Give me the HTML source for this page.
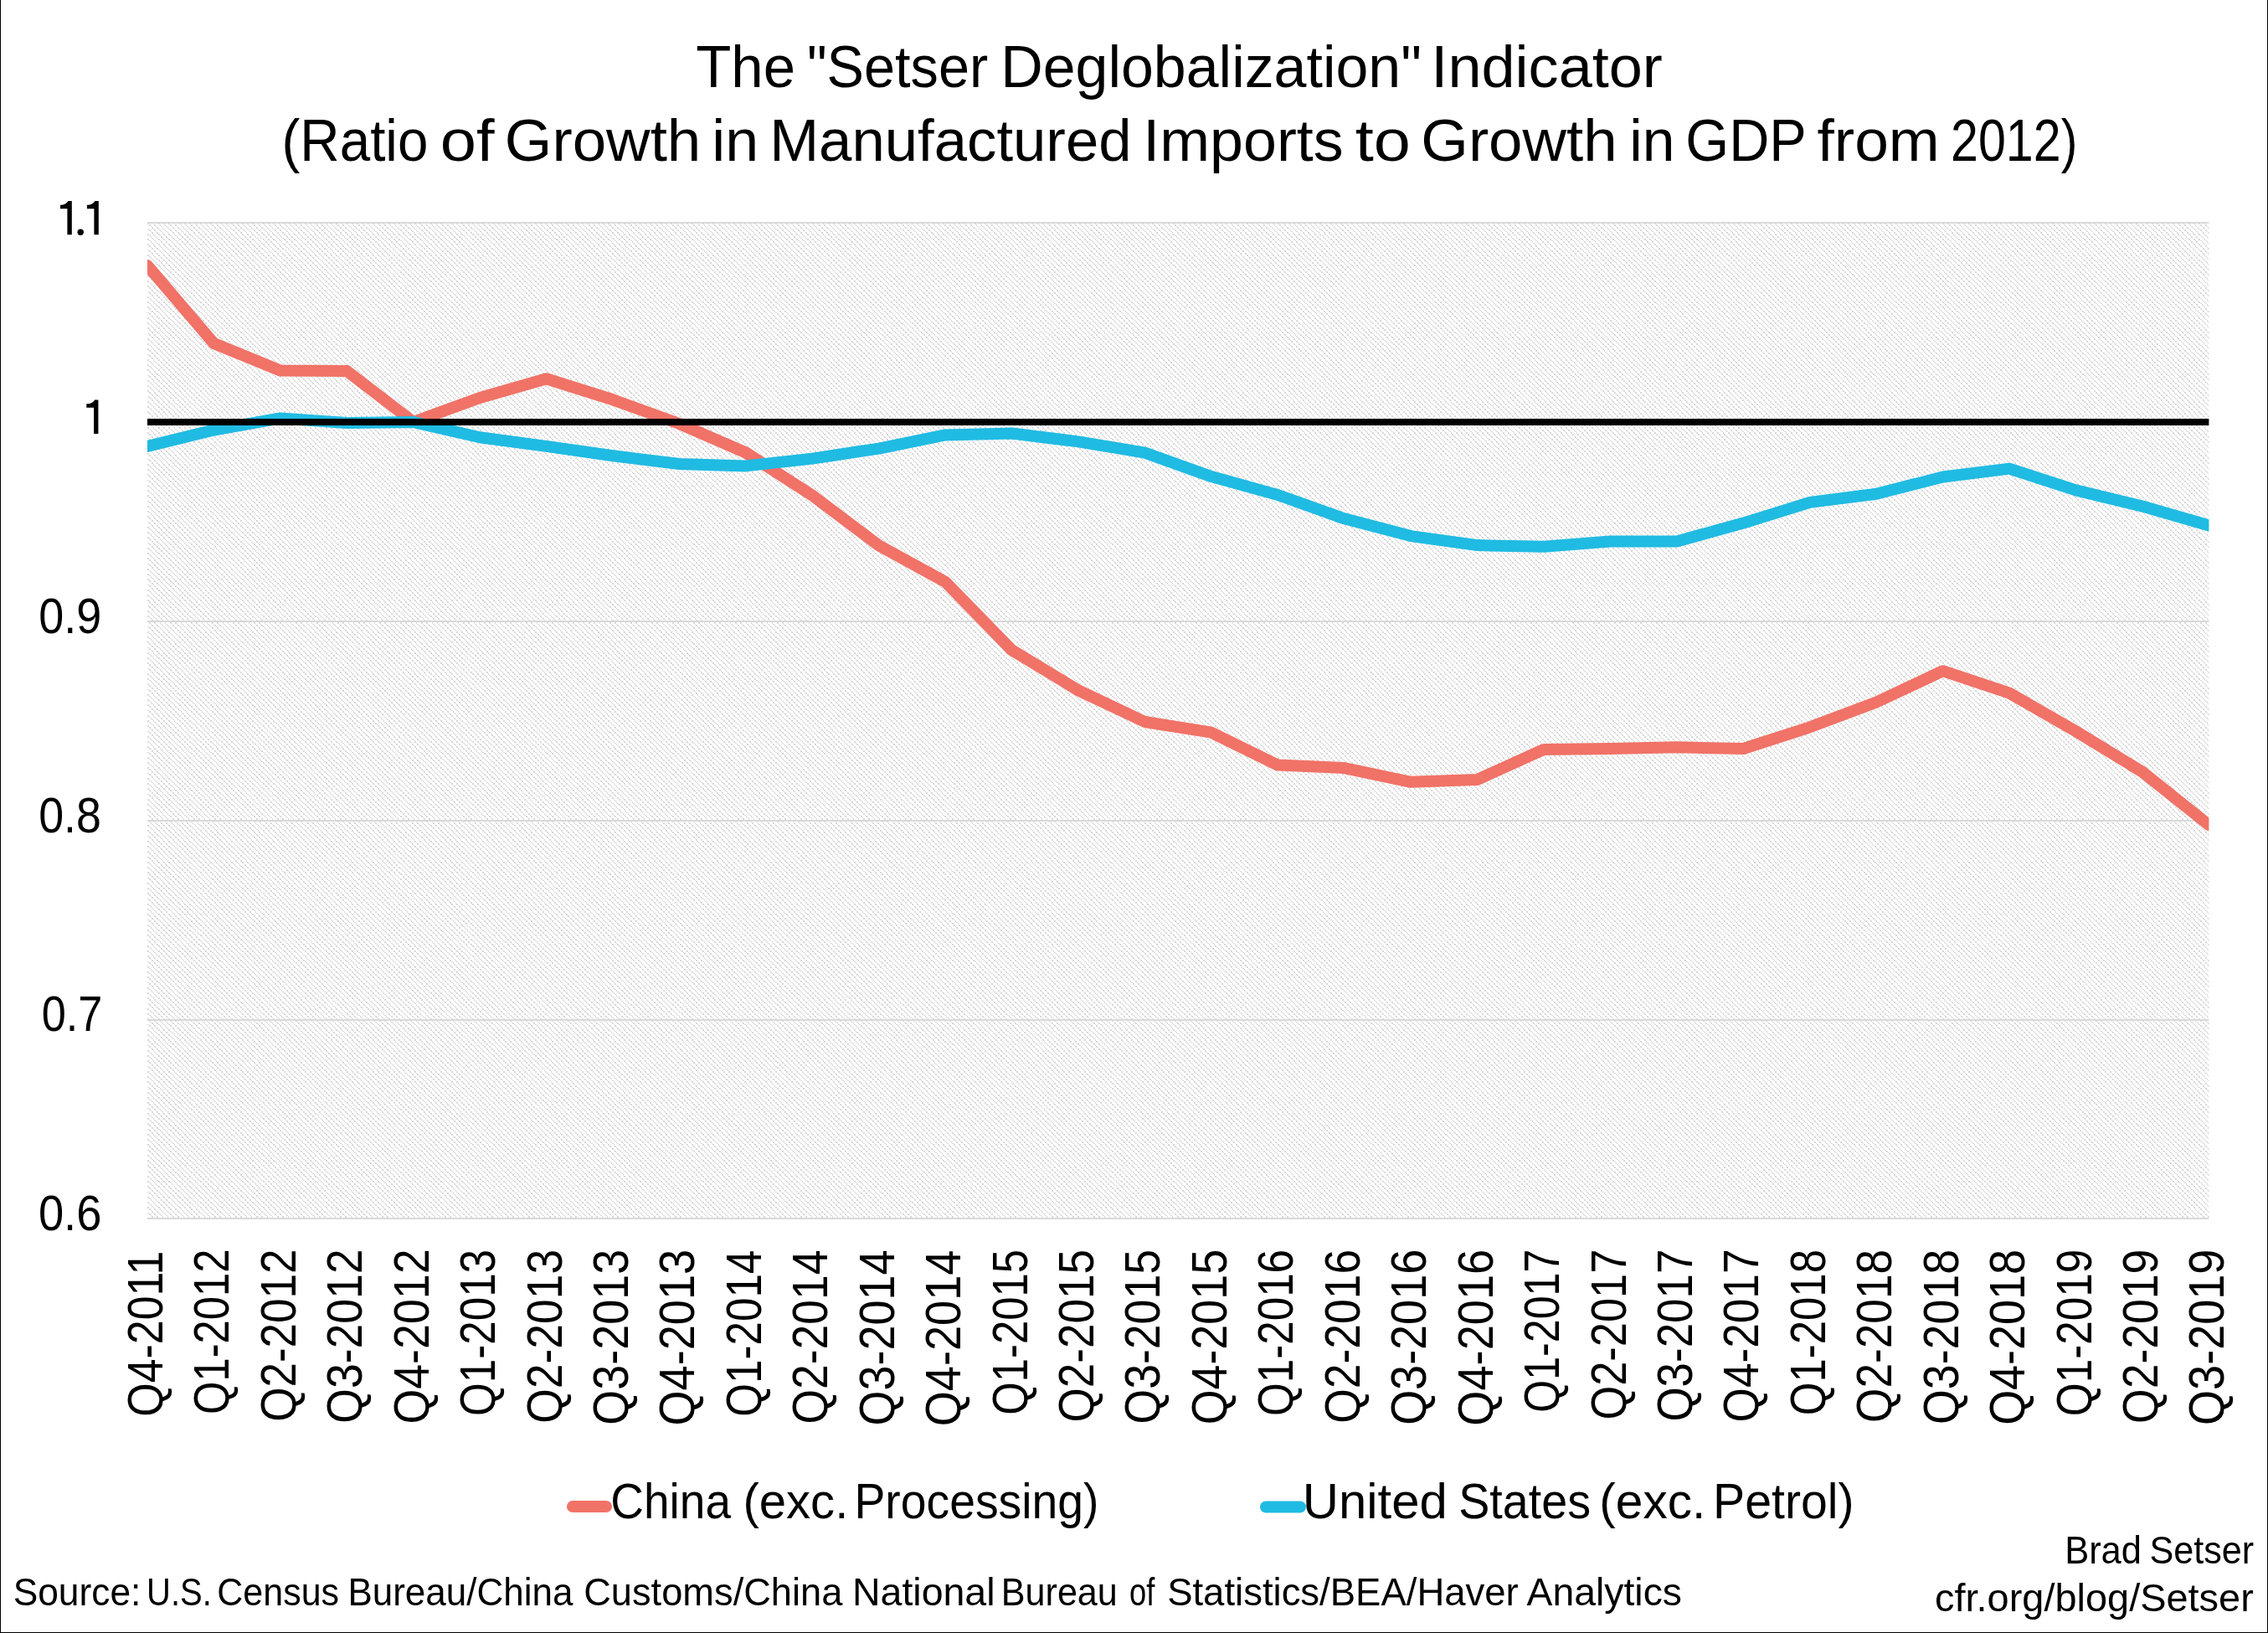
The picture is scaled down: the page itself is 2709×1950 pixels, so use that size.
<!DOCTYPE html>
<html><head><meta charset="utf-8"><title>The Setser Deglobalization Indicator</title>
<style>html,body{margin:0;padding:0;background:#fff;width:2709px;height:1950px;overflow:hidden}svg{display:block;will-change:transform}text{font-family:"Liberation Sans",sans-serif}</style>
</head><body>
<svg width="2709" height="1950" viewBox="0 0 2709 1950">
<rect width="2709" height="1950" fill="#fff"/>
<defs>
<pattern id="hatch" patternUnits="userSpaceOnUse" x="176" y="266" width="25" height="25">
<path fill="#d9d9d9" shape-rendering="crispEdges" d="M0 0h2v1h-2zM7 0h1v1h-1zM13 0h2v1h-2zM19 0h2v1h-2zM0 1h2v1h-2zM7 1h1v1h-1zM13 1h2v1h-2zM19 1h2v1h-2zM2 2h2v1h-2zM8 2h2v1h-2zM15 2h1v1h-1zM21 2h1v1h-1zM2 3h2v1h-2zM8 3h2v1h-2zM15 3h1v1h-1zM21 3h1v1h-1zM4 4h1v1h-1zM10 4h1v1h-1zM16 4h2v1h-2zM22 4h2v1h-2zM5 5h2v1h-2zM11 5h2v1h-2zM18 5h1v1h-1zM24 5h1v1h-1zM5 6h2v1h-2zM11 6h2v1h-2zM18 6h1v1h-1zM24 6h1v1h-1zM0 7h2v1h-2zM7 7h1v1h-1zM13 7h2v1h-2zM19 7h2v1h-2zM2 8h2v1h-2zM8 8h2v1h-2zM15 8h1v1h-1zM21 8h1v1h-1zM2 9h2v1h-2zM8 9h2v1h-2zM15 9h1v1h-1zM21 9h1v1h-1zM4 10h1v1h-1zM10 10h1v1h-1zM16 10h2v1h-2zM22 10h2v1h-2zM5 11h2v1h-2zM11 11h2v1h-2zM18 11h1v1h-1zM24 11h1v1h-1zM5 12h2v1h-2zM11 12h2v1h-2zM18 12h1v1h-1zM24 12h1v1h-1zM0 13h2v1h-2zM7 13h1v1h-1zM13 13h2v1h-2zM19 13h2v1h-2zM0 14h2v1h-2zM7 14h1v1h-1zM13 14h2v1h-2zM19 14h2v1h-2zM2 15h2v1h-2zM8 15h2v1h-2zM15 15h1v1h-1zM21 15h1v1h-1zM4 16h1v1h-1zM10 16h1v1h-1zM16 16h2v1h-2zM22 16h2v1h-2zM4 17h1v1h-1zM10 17h1v1h-1zM16 17h2v1h-2zM22 17h2v1h-2zM5 18h2v1h-2zM11 18h2v1h-2zM18 18h1v1h-1zM24 18h1v1h-1zM0 19h2v1h-2zM7 19h1v1h-1zM13 19h2v1h-2zM19 19h2v1h-2zM0 20h2v1h-2zM7 20h1v1h-1zM13 20h2v1h-2zM19 20h2v1h-2zM2 21h2v1h-2zM8 21h2v1h-2zM15 21h1v1h-1zM21 21h1v1h-1zM4 22h1v1h-1zM10 22h1v1h-1zM16 22h2v1h-2zM22 22h2v1h-2zM4 23h1v1h-1zM10 23h1v1h-1zM16 23h2v1h-2zM22 23h2v1h-2zM5 24h2v1h-2zM11 24h2v1h-2zM18 24h1v1h-1zM24 24h1v1h-1z"/>
</pattern>
<clipPath id="plot"><rect x="176" y="256" width="2462.4" height="1209"/></clipPath>
</defs><rect x="176" y="266" width="2462.4" height="1189" fill="url(#hatch)"/><rect x="176" y="265" width="2462.4" height="2" fill="#d9d9d9"/><rect x="176" y="741" width="2462.4" height="2" fill="#d9d9d9"/><rect x="176" y="979" width="2462.4" height="2" fill="#d9d9d9"/><rect x="176" y="1217" width="2462.4" height="2" fill="#d9d9d9"/><rect x="176" y="1454" width="2462.4" height="2" fill="#d9d9d9"/><polyline points="176.00,317.00 255.43,410.00 334.86,442.50 414.30,443.00 493.73,504.00 573.16,475.00 652.59,452.30 732.03,477.30 811.46,506.00 890.89,540.50 970.32,591.70 1049.75,651.30 1129.19,694.90 1208.62,776.30 1288.05,824.40 1367.48,862.00 1446.92,874.70 1526.35,913.60 1605.78,917.10 1685.21,933.80 1764.65,930.90 1844.08,894.90 1923.51,894.00 2002.94,892.30 2082.37,894.00 2161.81,868.30 2241.24,838.50 2320.67,801.20 2400.10,827.60 2479.54,873.20 2558.97,921.80 2638.40,985.10" fill="none" stroke="#F17267" stroke-width="14" stroke-linejoin="round" stroke-linecap="round" clip-path="url(#plot)"/><polyline points="176.00,533.00 255.43,513.50 334.86,499.40 414.30,505.00 493.73,504.00 573.16,522.30 652.59,532.90 732.03,544.30 811.46,554.00 890.89,556.40 970.32,547.60 1049.75,535.60 1129.19,519.40 1208.62,517.50 1288.05,527.40 1367.48,540.60 1446.92,569.10 1526.35,591.00 1605.78,619.30 1685.21,640.10 1764.65,651.10 1844.08,652.80 1923.51,646.60 2002.94,646.40 2082.37,624.60 2161.81,599.90 2241.24,589.80 2320.67,569.50 2400.10,559.60 2479.54,585.40 2558.97,604.60 2638.40,627.40" fill="none" stroke="#20BBE2" stroke-width="14" stroke-linejoin="round" stroke-linecap="round" clip-path="url(#plot)"/><rect x="176" y="500" width="2462.4" height="8" fill="#000"/>
<g font-family="Liberation Sans, sans-serif" fill="#000">
<text x="831.15" y="104.00" font-size="71" textLength="118.92" lengthAdjust="spacingAndGlyphs">The</text>
<text x="963.97" y="104.00" font-size="71" textLength="216.14" lengthAdjust="spacingAndGlyphs">&quot;Setser</text>
<text x="1195.27" y="104.00" font-size="71" textLength="502.70" lengthAdjust="spacingAndGlyphs">Deglobalization&quot;</text>
<text x="1709.35" y="104.00" font-size="71" textLength="276.55" lengthAdjust="spacingAndGlyphs">Indicator</text>
<text x="336.54" y="192.00" font-size="71" textLength="174.82" lengthAdjust="spacingAndGlyphs">(Ratio</text>
<text x="525.74" y="192.00" font-size="71" textLength="64.75" lengthAdjust="spacingAndGlyphs">of</text>
<text x="602.84" y="192.00" font-size="71" textLength="234.48" lengthAdjust="spacingAndGlyphs">Growth</text>
<text x="850.20" y="192.00" font-size="71" textLength="55.86" lengthAdjust="spacingAndGlyphs">in</text>
<text x="919.20" y="192.00" font-size="71" textLength="432.36" lengthAdjust="spacingAndGlyphs">Manufactured</text>
<text x="1365.38" y="192.00" font-size="71" textLength="239.21" lengthAdjust="spacingAndGlyphs">Imports</text>
<text x="1618.80" y="192.00" font-size="71" textLength="66.13" lengthAdjust="spacingAndGlyphs">to</text>
<text x="1697.34" y="192.00" font-size="71" textLength="234.38" lengthAdjust="spacingAndGlyphs">Growth</text>
<text x="1946.34" y="192.00" font-size="71" textLength="54.18" lengthAdjust="spacingAndGlyphs">in</text>
<text x="2013.35" y="192.00" font-size="71" textLength="144.47" lengthAdjust="spacingAndGlyphs">GDP</text>
<text x="2170.46" y="192.00" font-size="71" textLength="146.36" lengthAdjust="spacingAndGlyphs">from</text>
<text x="2330.02" y="192.00" font-size="71" textLength="151.35" lengthAdjust="spacingAndGlyphs">2012)</text>
<path d="M117.40,477.40 L117.40,517.90 L112.10,517.90 L112.10,486.80 L103.30,486.80 L103.30,482.20 C107.60,482.20 111.60,480.60 113.10,477.40 Z"/>
<path d="M85.80,239.90 L85.80,280.30 L80.40,280.30 L80.40,249.30 L72.00,249.30 L72.00,244.70 C75.90,244.70 79.90,243.10 81.40,239.90 Z"/>
<circle cx="96.2" cy="277.3" r="3.7"/>
<path d="M117.80,239.90 L117.80,280.30 L112.40,280.30 L112.40,249.30 L103.90,249.30 L103.90,244.70 C107.90,244.70 111.90,243.10 113.40,239.90 Z"/>
<text x="46.19" y="756.00" font-size="59" textLength="74.96" lengthAdjust="spacingAndGlyphs">0.9</text>
<text x="46.20" y="993.80" font-size="59" textLength="74.74" lengthAdjust="spacingAndGlyphs">0.8</text>
<text x="49.66" y="1231.30" font-size="59" textLength="72.67" lengthAdjust="spacingAndGlyphs">0.7</text>
<text x="45.88" y="1469.00" font-size="59" textLength="75.51" lengthAdjust="spacingAndGlyphs">0.6</text>
<text transform="rotate(-90)" x="-1691.71" y="194.00" font-size="59.5" textLength="198.20" lengthAdjust="spacingAndGlyphs">Q4-2011</text>
<text transform="rotate(-90)" x="-1688.90" y="273.43" font-size="59.5" textLength="197.25" lengthAdjust="spacingAndGlyphs">Q1-2012</text>
<text transform="rotate(-90)" x="-1697.71" y="352.86" font-size="59.5" textLength="206.17" lengthAdjust="spacingAndGlyphs">Q2-2012</text>
<text transform="rotate(-90)" x="-1699.73" y="432.30" font-size="59.5" textLength="208.23" lengthAdjust="spacingAndGlyphs">Q3-2012</text>
<text transform="rotate(-90)" x="-1700.54" y="511.73" font-size="59.5" textLength="209.05" lengthAdjust="spacingAndGlyphs">Q4-2012</text>
<text transform="rotate(-90)" x="-1690.92" y="591.16" font-size="59.5" textLength="198.97" lengthAdjust="spacingAndGlyphs">Q1-2013</text>
<text transform="rotate(-90)" x="-1699.73" y="670.59" font-size="59.5" textLength="207.88" lengthAdjust="spacingAndGlyphs">Q2-2013</text>
<text transform="rotate(-90)" x="-1701.75" y="750.03" font-size="59.5" textLength="209.93" lengthAdjust="spacingAndGlyphs">Q3-2013</text>
<text transform="rotate(-90)" x="-1702.56" y="829.46" font-size="59.5" textLength="210.74" lengthAdjust="spacingAndGlyphs">Q4-2013</text>
<text transform="rotate(-90)" x="-1691.72" y="908.89" font-size="59.5" textLength="199.02" lengthAdjust="spacingAndGlyphs">Q1-2014</text>
<text transform="rotate(-90)" x="-1700.53" y="988.32" font-size="59.5" textLength="207.90" lengthAdjust="spacingAndGlyphs">Q2-2014</text>
<text transform="rotate(-90)" x="-1702.56" y="1067.75" font-size="59.5" textLength="209.94" lengthAdjust="spacingAndGlyphs">Q3-2014</text>
<text transform="rotate(-90)" x="-1703.36" y="1147.19" font-size="59.5" textLength="210.75" lengthAdjust="spacingAndGlyphs">Q4-2014</text>
<text transform="rotate(-90)" x="-1689.71" y="1226.62" font-size="59.5" textLength="197.64" lengthAdjust="spacingAndGlyphs">Q1-2015</text>
<text transform="rotate(-90)" x="-1698.51" y="1306.05" font-size="59.5" textLength="206.54" lengthAdjust="spacingAndGlyphs">Q2-2015</text>
<text transform="rotate(-90)" x="-1700.54" y="1385.48" font-size="59.5" textLength="208.59" lengthAdjust="spacingAndGlyphs">Q3-2015</text>
<text transform="rotate(-90)" x="-1701.35" y="1464.92" font-size="59.5" textLength="209.41" lengthAdjust="spacingAndGlyphs">Q4-2015</text>
<text transform="rotate(-90)" x="-1691.02" y="1544.35" font-size="59.5" textLength="199.07" lengthAdjust="spacingAndGlyphs">Q1-2016</text>
<text transform="rotate(-90)" x="-1699.83" y="1623.78" font-size="59.5" textLength="207.98" lengthAdjust="spacingAndGlyphs">Q2-2016</text>
<text transform="rotate(-90)" x="-1701.86" y="1703.21" font-size="59.5" textLength="210.03" lengthAdjust="spacingAndGlyphs">Q3-2016</text>
<text transform="rotate(-90)" x="-1702.67" y="1782.65" font-size="59.5" textLength="210.85" lengthAdjust="spacingAndGlyphs">Q4-2016</text>
<text transform="rotate(-90)" x="-1686.77" y="1862.08" font-size="59.5" textLength="195.10" lengthAdjust="spacingAndGlyphs">Q1-2017</text>
<text transform="rotate(-90)" x="-1695.58" y="1941.51" font-size="59.5" textLength="204.02" lengthAdjust="spacingAndGlyphs">Q2-2017</text>
<text transform="rotate(-90)" x="-1697.61" y="2020.94" font-size="59.5" textLength="206.07" lengthAdjust="spacingAndGlyphs">Q3-2017</text>
<text transform="rotate(-90)" x="-1698.42" y="2100.37" font-size="59.5" textLength="206.89" lengthAdjust="spacingAndGlyphs">Q4-2017</text>
<text transform="rotate(-90)" x="-1690.21" y="2179.81" font-size="59.5" textLength="198.23" lengthAdjust="spacingAndGlyphs">Q1-2018</text>
<text transform="rotate(-90)" x="-1699.02" y="2259.24" font-size="59.5" textLength="207.13" lengthAdjust="spacingAndGlyphs">Q2-2018</text>
<text transform="rotate(-90)" x="-1701.05" y="2338.67" font-size="59.5" textLength="209.18" lengthAdjust="spacingAndGlyphs">Q3-2018</text>
<text transform="rotate(-90)" x="-1701.86" y="2418.10" font-size="59.5" textLength="210.00" lengthAdjust="spacingAndGlyphs">Q4-2018</text>
<text transform="rotate(-90)" x="-1691.13" y="2497.54" font-size="59.5" textLength="199.35" lengthAdjust="spacingAndGlyphs">Q1-2019</text>
<text transform="rotate(-90)" x="-1699.93" y="2576.97" font-size="59.5" textLength="208.27" lengthAdjust="spacingAndGlyphs">Q2-2019</text>
<text transform="rotate(-90)" x="-1701.96" y="2656.40" font-size="59.5" textLength="210.32" lengthAdjust="spacingAndGlyphs">Q3-2019</text>
<text x="729.21" y="1813.00" font-size="59" textLength="143.79" lengthAdjust="spacingAndGlyphs">China</text>
<text x="887.40" y="1813.00" font-size="59" textLength="125.91" lengthAdjust="spacingAndGlyphs">(exc.</text>
<text x="1020.46" y="1813.00" font-size="59" textLength="291.97" lengthAdjust="spacingAndGlyphs">Processing)</text>
<text x="1555.78" y="1813.00" font-size="59" textLength="173.08" lengthAdjust="spacingAndGlyphs">United</text>
<text x="1742.17" y="1813.00" font-size="59" textLength="157.84" lengthAdjust="spacingAndGlyphs">States</text>
<text x="1910.37" y="1813.00" font-size="59" textLength="126.98" lengthAdjust="spacingAndGlyphs">(exc.</text>
<text x="2046.01" y="1813.00" font-size="59" textLength="168.54" lengthAdjust="spacingAndGlyphs">Petrol)</text>
<text x="2466.13" y="1867.00" font-size="47" textLength="91.87" lengthAdjust="spacingAndGlyphs">Brad</text>
<text x="2567.44" y="1867.00" font-size="47" textLength="124.68" lengthAdjust="spacingAndGlyphs">Setser</text>
<text x="2311.02" y="1924.00" font-size="47" textLength="380.75" lengthAdjust="spacingAndGlyphs">cfr.org/blog/Setser</text>
<text x="15.69" y="1917.00" font-size="47" textLength="152.66" lengthAdjust="spacingAndGlyphs">Source:</text>
<text x="175.12" y="1917.00" font-size="47" textLength="77.73" lengthAdjust="spacingAndGlyphs">U.S.</text>
<text x="259.32" y="1917.00" font-size="47" textLength="145.74" lengthAdjust="spacingAndGlyphs">Census</text>
<text x="415.39" y="1917.00" font-size="47" textLength="269.01" lengthAdjust="spacingAndGlyphs">Bureau/China</text>
<text x="697.20" y="1917.00" font-size="47" textLength="309.20" lengthAdjust="spacingAndGlyphs">Customs/China</text>
<text x="1017.99" y="1917.00" font-size="47" textLength="170.52" lengthAdjust="spacingAndGlyphs">National</text>
<text x="1195.76" y="1917.00" font-size="47" textLength="139.10" lengthAdjust="spacingAndGlyphs">Bureau</text>
<text x="1348.98" y="1917.00" font-size="47" textLength="30.27" lengthAdjust="spacingAndGlyphs">of</text>
<text x="1394.13" y="1917.00" font-size="47" textLength="419.62" lengthAdjust="spacingAndGlyphs">Statistics/BEA/Haver</text>
<text x="1823.61" y="1917.00" font-size="47" textLength="185.36" lengthAdjust="spacingAndGlyphs">Analytics</text>
</g>
<line x1="684" y1="1799" x2="724" y2="1799" stroke="#F17267" stroke-width="14" stroke-linecap="round"/>
<line x1="1512" y1="1799.5" x2="1553" y2="1799.5" stroke="#20BBE2" stroke-width="14" stroke-linecap="round"/>
<rect x="0" y="0" width="1" height="1950" fill="#000"/>
<rect x="2708" y="0" width="1" height="1950" fill="#000"/>
<rect x="0" y="1949" width="2709" height="1" fill="#000"/>
</svg>
</body></html>
